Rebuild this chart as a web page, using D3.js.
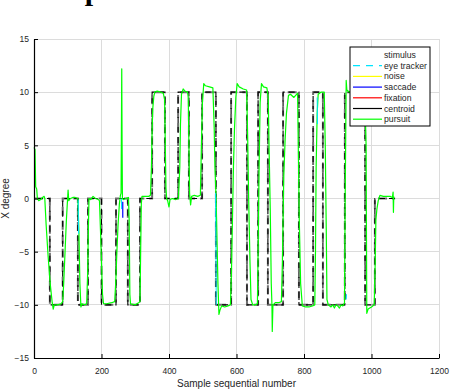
<!DOCTYPE html>
<html><head><meta charset="utf-8">
<script src="https://cdn.jsdelivr.net/npm/d3@7"></script>
<style>body{margin:0;background:#fff}svg{display:block}</style>
</head><body>
<svg id="c" width="450" height="390"></svg>
<script>
// ---- data ----
const xTicks = [0,200,400,600,800,1000,1200];
const yTicks = [-15,-10,-5,0,5,10,15];
// stimulus step changes (sample, value)
const stimT = [0,47,85,130,160,200,243,278,314,350,388,427,459,498,539,584,631,664,693,738,785,827,856,921,981,1010,1070];
const stimV = [0,-10,0,-10,0,-10,0,-10,0,10,0,10,0,10,-10,10,-10,10,-10,10,-10,10,-10,10,-10,0,0];
// pursuit trace
const pursuitX = [0,3,5,8,10,14,20,25,30,32,36,42,48,54,57,60,70,80,85,88,92,96,99,101,103,108,115,122,130,133,136,139,142,150,156,159,161,163,168,175,182,190,194,197,200,203,206,215,230,239,242,245,249,253,256,258,260,261,262,265,272,280,282,284,286,300,310,314,316,318,320,330,340,345,348,350,352,355,358,365,375,383,387,389,391,393,396,400,403,410,420,428,432,434,437,442,447,455,457,459,461,464,467,475,485,493,496,499,503,508,520,530,532,534,536,539,541,545,548,551,556,565,575,582,585,588,591,594,598,602,608,620,630,633,636,640,643,648,655,662,664,667,670,674,680,690,694,697,700,703,705,706,708,715,725,733,736,740,744,748,754,760,770,778,781,783,786,790,795,805,815,825,832,834,836,839,842,850,860,863,866,868,872,880,885,890,895,900,905,910,915,920,922,925,927,935,950,965,980,984,986,990,1000,1008,1011,1013,1016,1020,1025,1035,1045,1055,1062,1064,1065,1066];
const pursuitY = [4.8,4.6,1.1,0.9,0,-0.2,-0.1,0.1,0.2,0,-2.5,-5.5,-8,-9.8,-10.4,-10,-10,-9.9,-9.7,-8,-5,-2,-0.3,0.8,-0.2,0,0.1,0.1,0,-3,-8,-10.2,-9.9,-10,-9.9,-7,-3,0,-0.1,0.2,0,-0.1,-0.2,-3,-6,-9,-9.9,-9.9,-9.8,-9.7,-8,-5.5,-2.5,-0.5,0.3,0.5,12.2,5,0,-0.1,0,0.1,-2,-9,-9.9,-10,-9.8,-9.7,-5,-0.5,0.2,0.2,0.2,0.3,3,6.5,8.5,9.6,10,10.1,10,9.9,9.3,5,1,0,-0.2,-0.8,-0.1,0,-0.1,0,3,7,9.8,10.3,10.1,10,9.5,5,0.5,-0.6,0.2,0.3,0.2,0.3,5,9,10.8,10.6,10.5,10.4,8.5,6.5,3,0.5,-2,-8,-10.9,-10.5,-10.1,-10.2,-10.1,-10,-7,-2,3,6.5,9.5,10.8,10.5,10.3,10.2,6,0,-6,-9.5,-10,-10,-9.9,-5,3,9,10.8,10.5,10.4,9.5,4,-1,-8,-10,-12.5,-10,-9.8,-9.8,-9.7,-6,2,5.5,8,9.7,9.8,9.5,9.8,9.9,5,-2,-8,-10.1,-10.2,-10.2,-10.1,-10,-5,3,8,9.8,10,10,5,-3,-9.5,-10,-10.2,-10,-10.3,-10,-10.1,-10.3,-10,-10.1,-9.8,0,11.1,10.2,10,10,10,10,5,-10.8,-10.4,-10.2,-10,-6,-2,-1,-0.2,0.3,0.2,0.2,0.2,0.1,0.6,-1.3,0.2];
// eye tracker fragments (visible bits)
const eyeX = [131,132,null,259,259.5,null,538,540,null,839,840,null,925,926];
const eyeY = [-0.1,-3.3,null,0,-1,null,0.5,-10,null,9.5,7,null,-9.5,-9];
// saccade fragment
const sacX = [263,263];
const sacY = [-0.3,-1.8];
const legendLabels = ["stimulus","eye tracker","noise","saccade","fixation","centroid","pursuit"];
const legendColors = ["#ffffff","#00e5ff","#ffff00","#0000ff","#ff0000","#000000","#00ff00"];
const legendDash = [null,"7,6",null,null,null,null,null];

// ---- drawing ----
const svg = d3.select("#c");
const x = d3.scaleLinear().domain([0,1200]).range([34,439]);
const y = d3.scaleLinear().domain([-15,15]).range([358,39]);

// title fragment (cut off at top, as in the reference)
svg.append("text").attr("x",93).attr("y",0).attr("text-anchor","middle")
  .style("font-family","'Liberation Serif',serif").style("font-weight","bold").style("font-size","30px")
  .attr("fill","#000").text("p");

// grid
const g = svg.append("g");
g.selectAll(".vg").data(xTicks).join("line")
  .attr("x1",d=>x(d)).attr("x2",d=>x(d)).attr("y1",y(15)).attr("y2",y(-15))
  .attr("stroke","#dcdcdc").attr("stroke-width",1).attr("shape-rendering","crispEdges");
g.selectAll(".hg").data(yTicks).join("line")
  .attr("y1",d=>y(d)).attr("y2",d=>y(d)).attr("x1",x(0)).attr("x2",x(1200))
  .attr("stroke","#dcdcdc").attr("stroke-width",1).attr("shape-rendering","crispEdges");

// step series
const stepPts = [];
stimT.forEach((t,i)=>{ stepPts.push([t,stimV[i]]); });
const stepLine = d3.line().x(d=>x(d[0])).y(d=>y(d[1])).curve(d3.curveStepAfter);
svg.append("path").attr("d",stepLine(stepPts)).attr("fill","none")
  .attr("stroke","#6e6e6e").attr("stroke-width",2).attr("stroke-dasharray","9,5");
svg.append("path").attr("d",stepLine(stepPts)).attr("fill","none")
  .attr("stroke","#000").attr("stroke-width",1.1).attr("stroke-dasharray","6,4").attr("stroke-dashoffset",7);

// pursuit
const line = d3.line().defined(d=>d[0]!==null).x(d=>x(d[0])).y(d=>y(d[1]));
svg.append("path").attr("d",line(pursuitX.map((v,i)=>[v,pursuitY[i]]))).attr("fill","none")
  .attr("stroke","#00ff00").attr("stroke-width",1.2).attr("stroke-linejoin","round");
// eye tracker and saccade fragments
svg.append("path").attr("d",line(eyeX.map((v,i)=>[v,eyeY[i]]))).attr("fill","none")
  .attr("stroke","#00e5ff").attr("stroke-width",1);
svg.append("path").attr("d",line(sacX.map((v,i)=>[v,sacY[i]]))).attr("fill","none")
  .attr("stroke","#0000ff").attr("stroke-width",1.2);

// axes
const ax = svg.append("g").attr("transform",`translate(0,${y(-15)})`)
  .call(d3.axisBottom(x).tickValues(xTicks).tickFormat(d3.format("d")).tickSizeInner(-4).tickSizeOuter(0).tickPadding(10));
const ay = svg.append("g").attr("transform",`translate(${x(0)},0)`)
  .call(d3.axisLeft(y).tickValues(yTicks).tickFormat(d3.format("d")).tickSizeInner(-4).tickSizeOuter(0).tickPadding(5));
[ax,ay].forEach(a=>{
  a.selectAll("text").style("font-family","'Liberation Sans',Arial,sans-serif").style("font-size","8.5px").attr("fill","#262626");
  a.select(".domain").attr("stroke","#000").attr("stroke-width",1.2);
  a.selectAll(".tick line").attr("stroke","#000");
});

// axis labels
svg.append("text").attr("x",236.5).attr("y",387).attr("text-anchor","middle")
  .style("font-family","'Liberation Sans',Arial,sans-serif").style("font-size","10px").attr("fill","#262626")
  .text("Sample sequential number");
svg.append("text").attr("transform","translate(9,198.5) rotate(-90)").attr("text-anchor","middle")
  .style("font-family","'Liberation Sans',Arial,sans-serif").style("font-size","10px").attr("fill","#262626")
  .text("X degree");

// legend
const lg = svg.append("g");
lg.append("rect").attr("x",350).attr("y",47).attr("width",80).attr("height",79)
  .attr("fill","#fff").attr("stroke","#000").attr("stroke-width",1);
legendLabels.forEach((lab,i)=>{
  const cy = 55 + i*10.7;
  lg.append("line").attr("x1",353).attr("x2",382).attr("y1",cy).attr("y2",cy)
    .attr("stroke",legendColors[i]).attr("stroke-width",1.2)
    .attr("stroke-dasharray",legendDash[i]);
  lg.append("text").attr("x",384).attr("y",cy).attr("dy","0.35em")
    .style("font-family","'Liberation Sans',Arial,sans-serif").style("font-size","8.7px").attr("fill","#262626")
    .text(lab);
});
</script>
</body></html>
